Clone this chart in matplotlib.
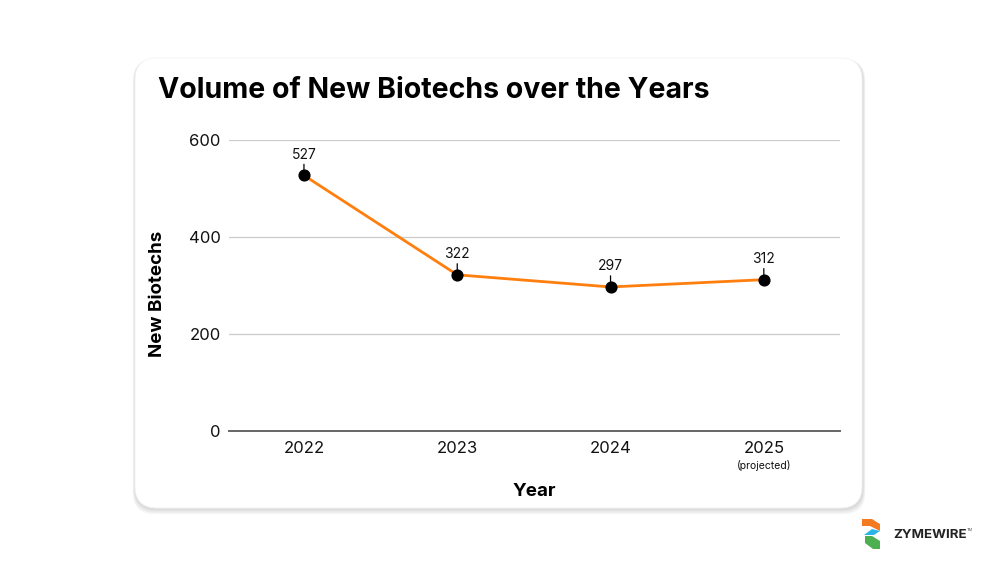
import matplotlib
matplotlib.use("Agg")
import matplotlib.pyplot as plt
from matplotlib.patches import FancyBboxPatch, Polygon

plt.rcParams['font.family'] = ['Inter', 'DejaVu Sans']

years = ["2022", "2023", "2024", "2025"]
new_biotechs = [527, 322, 297, 312]
y_ticks = [0, 200, 400, 600]

W, H = 998, 568
fig = plt.figure(figsize=(W / 100, H / 100), dpi=100)
fig.patch.set_facecolor("white")

# background layer in pixel units for the card and logo
bg = fig.add_axes([0, 0, 1, 1])
bg.set_xlim(0, W)
bg.set_ylim(H, 0)
bg.axis("off")

# card with soft shadow (mostly below / right)
for k in range(6, 0, -1):
    sh = FancyBboxPatch((135 - k * 0.4, 58 + 1), 727 + k * 0.8 + 1, 450 + k * 0.9,
                        boxstyle="round,pad=0,rounding_size=22",
                        facecolor="black", edgecolor="none", alpha=0.025, zorder=0)
    bg.add_patch(sh)
bg.add_patch(FancyBboxPatch((135, 58), 727, 450, boxstyle="round,pad=0,rounding_size=22",
                            facecolor="white", edgecolor="#f3f3f3", linewidth=0.6, zorder=1))

# logo
bg.add_patch(Polygon([(862, 519), (872, 519), (880, 524), (880, 531), (870, 526), (862, 526)],
                     closed=True, facecolor="#f47b20", edgecolor="none"))
bg.add_patch(Polygon([(864, 535), (872, 529), (880, 531), (874, 535)],
                     closed=True, facecolor="#2bb6e6", edgecolor="none"))
bg.add_patch(Polygon([(865, 536), (872, 536), (880, 541), (880, 549), (873, 549), (865, 543)],
                     closed=True, facecolor="#4caf50", edgecolor="none"))
bg.text(893, 535, "ZYMEWIRE", ha="left", va="center", fontsize=9.6,
        fontweight="bold", color="#222222")
bg.text(967, 530, "TM", ha="left", va="center", fontsize=2.8, color="#555555")

ax = fig.add_axes([229 / W, 1 - 431 / H, (840 - 229) / W, (431 - 140) / H])
ax.set_facecolor("none")

x = list(range(len(years)))
ax.plot(x, new_biotechs, color="#ff7f0e", linewidth=2, zorder=3)
ax.scatter(x, new_biotechs, s=60, color="black", zorder=4)

for xi, v in zip(x, new_biotechs):
    ax.annotate(str(v), xy=(xi, v), xytext=(0, 10), textcoords="offset points",
                ha="center", va="bottom", fontsize=10, color="#111111",
                arrowprops=dict(arrowstyle="-", color="black", lw=0.9,
                                shrinkA=0, shrinkB=0, relpos=(0.5, 0)))

ax.set_xlim(-0.489, 3.497)
ax.set_ylim(0, 600)
ax.set_yticks(y_ticks)
ax.set_xticks(x)
ax.set_xticklabels(years)
ax.tick_params(axis="both", length=0, labelsize=12, colors="#111111")
ax.tick_params(axis="x", pad=7)
ax.tick_params(axis="y", pad=6)
ax.grid(axis="y", color="#cccccc", linewidth=0.9)
ax.set_axisbelow(True)
for s in ["top", "right", "left"]:
    ax.spines[s].set_visible(False)
ax.spines["bottom"].set_color("#666666")
ax.spines["bottom"].set_linewidth(1.4)

ax.text(3, -0.12, "(projected)", transform=ax.get_xaxis_transform(),
        ha="center", va="center", fontsize=7.5, color="#111111")

fig.text(534 / W, 1 - 491 / H, "Year", ha="center", va="center",
         fontsize=13.5, fontweight="bold", color="black")
fig.text(158 / W, 1 - 294 / H, "New Biotechs", ha="center", va="center", rotation=90,
         fontsize=13.5, fontweight="bold", color="black")
fig.text(158 / W, 1 - 90 / H, "Volume of New Biotechs over the Years", ha="left", va="center",
         fontsize=20.5, fontweight="bold", color="black")

fig.savefig("out.png", dpi=100)
